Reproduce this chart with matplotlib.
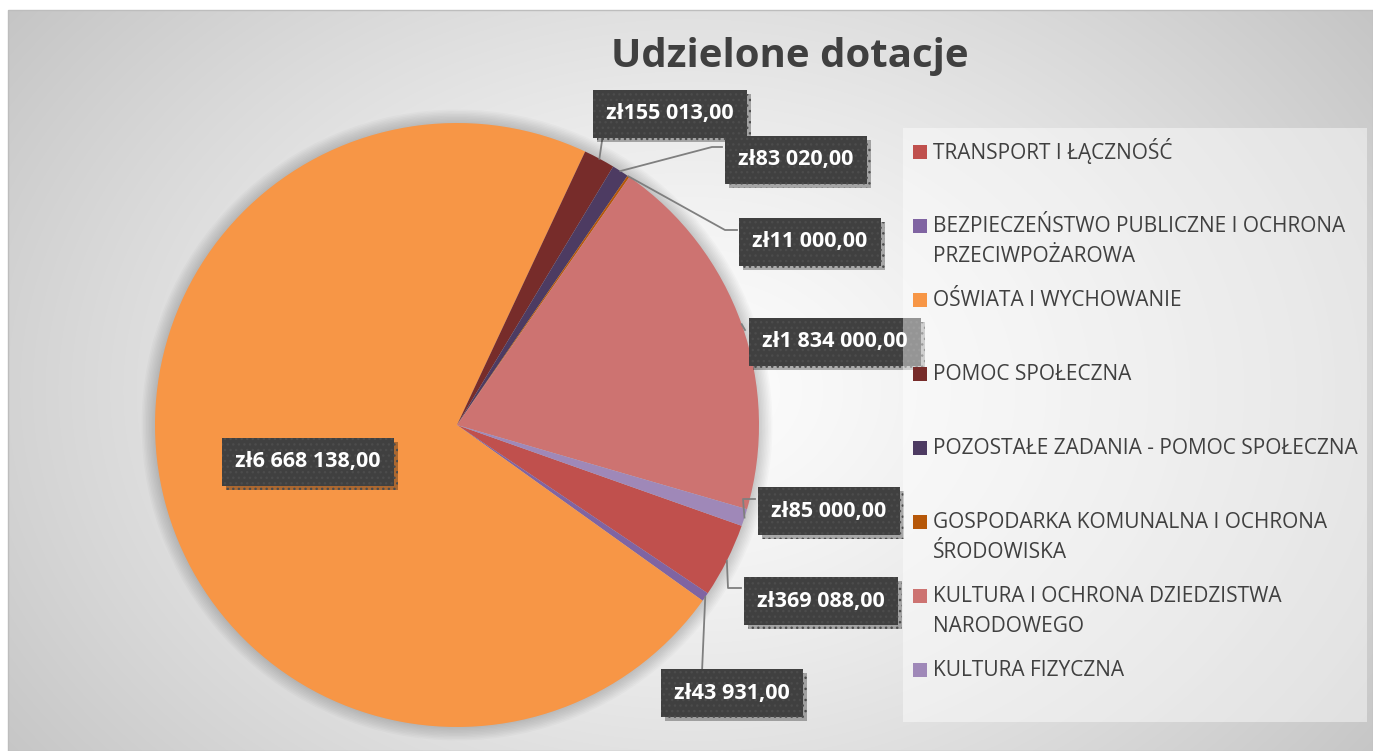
import textwrap

import matplotlib.pyplot as plt
import matplotlib.patheffects as pe
from matplotlib.patches import Rectangle, Circle
import numpy as np

categories = [
    'TRANSPORT I ŁĄCZNOŚĆ',
    'BEZPIECZEŃSTWO PUBLICZNE I OCHRONA PRZECIWPOŻAROWA',
    'OŚWIATA I WYCHOWANIE',
    'POMOC SPOŁECZNA',
    'POZOSTAŁE ZADANIA - POMOC SPOŁECZNA',
    'GOSPODARKA KOMUNALNA I OCHRONA ŚRODOWISKA',
    'KULTURA I OCHRONA DZIEDZISTWA NARODOWEGO',
    'KULTURA FIZYCZNA',
]
values = [369088, 43931, 6668138, 155013, 83020, 11000, 1834000, 85000]
colors = ['#C0504D', '#8064A2', '#F79646', '#772C2A',
          '#4D3B62', '#B65708', '#CD7371', '#9F88B8']

W, H = 1373, 751


def T(y):
    # pixel row measured from the top -> axis y
    return H - y


# label box centres and leader elbows (pixels from top-left)
label_pos = [(821, 601), (732, 693), (308, 462), (670, 114),
             (796, 160), (810, 242), (835, 342), (829, 511)]
leaders = [
    [(728, 588), (741, 588)],
    [(702, 672)],
    [],
    [(603, 134)],
    [(712, 147), (722, 147)],
    [(725, 230), (737, 230)],
    [(745, 330)],
    [(743, 499), (755, 499)],
]


def money(v):
    s = f'{v:,.2f}'.replace(',', ' ').replace('.', ',')
    return 'zł' + s


fig = plt.figure(figsize=(W / 100, H / 100), dpi=100, facecolor='white')
ax = fig.add_axes([0, 0, 1, 1])

# background gradient
xs, ys = np.meshgrid(np.arange(8, W), np.arange(10, H))
d = np.sqrt(((xs - 690) / 700.0) ** 2 + ((ys - 390) / 520.0) ** 2)
g = 253 - 58 * np.clip(d / 1.25, 0, 1) ** 1.3
bg = np.dstack([g, g, g]) / 255.0
ax.imshow(bg, extent=(8, W, 0, T(10)), origin='upper', aspect='auto', zorder=0)
ax.add_patch(Rectangle((8, 0), W - 8, T(10), fill=False, ec='#bdbdbd', lw=1, zorder=1))

cx, cy, r = 457, T(425), 302
for k in range(10):
    ax.add_patch(Circle((cx, cy), r + 1.5 * k, fc='black', alpha=0.018, lw=0, zorder=1))

wedges, _ = ax.pie(values, colors=colors, startangle=-19.5, counterclock=False,
                   center=(cx, cy), radius=r, wedgeprops=dict(lw=0))
for w in wedges:
    w.set_zorder(2)

for i, (w, v) in enumerate(zip(wedges, values)):
    lx, ly = label_pos[i]
    if leaders[i]:
        mid = np.deg2rad((w.theta1 + w.theta2) / 2)
        px = [cx + r * np.cos(mid)] + [p[0] for p in leaders[i]]
        py = [cy + r * np.sin(mid)] + [T(p[1]) for p in leaders[i]]
        ax.plot(px, py, color='#7f7f7f', lw=1.3, zorder=3)
    t = ax.text(lx, T(ly), money(v), ha='center', va='center', color='white',
                fontsize=15.5, fontweight='bold', family='Open Sans', zorder=4,
                bbox=dict(boxstyle='square,pad=0.62', fc='#404040', ec='#4c4c4c',
                          lw=0, hatch='...'))
    t.get_bbox_patch().set_path_effects(
        [pe.SimplePatchShadow(offset=(3, -3), shadow_rgbFace='black', alpha=0.3),
         pe.Normal()])

# legend
ax.add_patch(Rectangle((903, T(722)), 464, 594, fc='white', alpha=0.45, lw=0, zorder=5))
for i, (name, c) in enumerate(zip(categories, colors)):
    yc = 152 + 74 * i
    ax.add_patch(Rectangle((913, T(yc + 7)), 14, 14, fc=c, lw=0, zorder=6))
    for j, line in enumerate(textwrap.wrap(name, 35)):
        ax.text(933, T(yc + 6.5 + 29 * j), line, ha='left', va='baseline',
                fontsize=15, color='#404040', family='Open Sans', zorder=6)

ax.text(790, T(57), 'Udzielone dotacje', ha='center', va='center', fontsize=29,
        fontweight='bold', color='#404040', family='Open Sans', zorder=6)

ax.set_xlim(0, W)
ax.set_ylim(0, H)
ax.axis('off')
fig.savefig('out.png', dpi=100, facecolor='white')
